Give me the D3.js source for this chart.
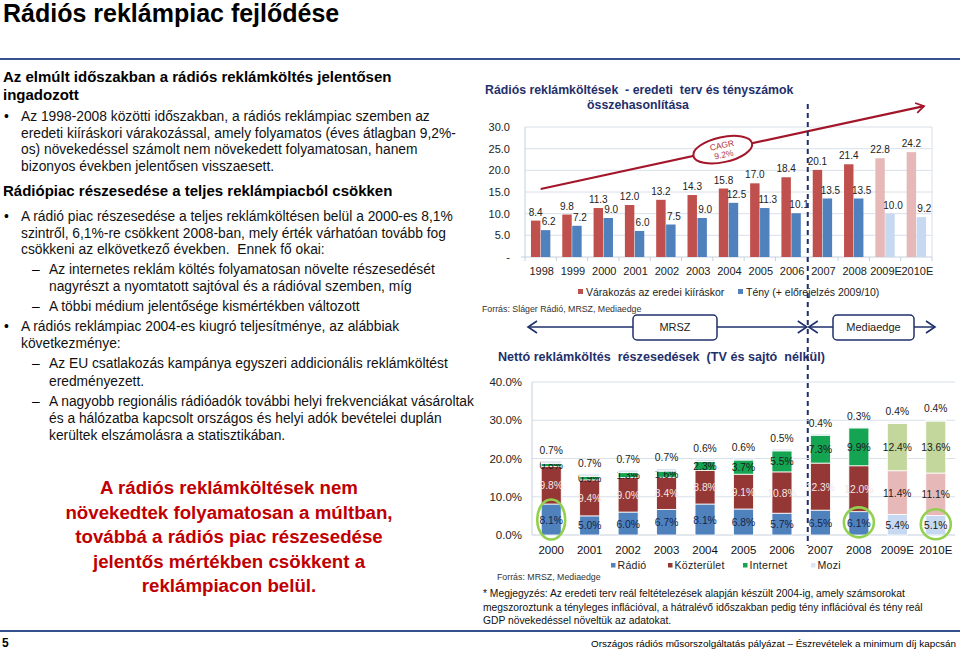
<!DOCTYPE html>
<html><head><meta charset="utf-8">
<script src="https://cdn.jsdelivr.net/npm/d3@7"></script>
<style>
body{margin:0;background:#fff}
svg{display:block;font-family:"Liberation Sans",Arial,Helvetica,sans-serif}
text{white-space:pre}
</style>
</head><body>
<svg id="c" width="960" height="653"></svg>
<script>
// ---------- DATA ----------
const years1 = ["1998","1999","2000","2001","2002","2003","2004","2005","2006","2007","2008","2009E","2010E"];
const expected = [8.4, 9.8, 11.3, 12.0, 13.2, 14.3, 15.8, 17.0, 18.4, 20.1, 21.4, 22.8, 24.2];
const actual   = [6.2, 7.2, 9.0, 6.0, 7.5, 9.0, 12.5, 11.3, 10.1, 13.5, 13.5, 10.0, 9.2];
const yTicks1 = [0, 5, 10, 15, 20, 25, 30];
const legend1 = ["Várakozás az eredei kiíráskor", "Tény (+ előrejelzés 2009/10)"];

const years2 = ["2000","2001","2002","2003","2004","2005","2006","2007","2008","2009E","2010E"];
const radio      = [8.1, 5.0, 6.0, 6.7, 8.1, 6.8, 5.7, 6.5, 6.1, 5.4, 5.1];
const kozterulet = [9.8, 9.4, 9.0, 8.4, 8.8, 9.1, 10.8, 12.3, 12.0, 11.4, 11.1];
const internet   = [0.8, 0.9, 1.3, 1.6, 2.3, 3.7, 5.5, 7.3, 9.9, 12.4, 13.6];
const mozi       = [0.7, 0.7, 0.7, 0.7, 0.6, 0.6, 0.5, 0.4, 0.3, 0.4, 0.4];
const yTicks2 = [0, 10, 20, 30, 40];
const series2 = ["Rádió", "Közterület", "Internet", "Mozi"];
const circled = ["2000", "2008", "2010E"];

const leftLines = [
  ["h","Az elmúlt időszakban a rádiós reklámköltés jelentősen"],
  ["h","ingadozott"],
  ["b","Az 1998-2008 közötti időszakban, a rádiós reklámpiac szemben az"],
  ["bc","eredeti kiíráskori várakozással, amely folyamatos (éves átlagban 9,2%-"],
  ["bc","os) növekedéssel számolt nem növekedett folyamatosan, hanem"],
  ["bc","bizonyos években jelentősen visszaesett."],
  ["h","Rádiópiac részesedése a teljes reklámpiacból csökken"],
  ["b","A rádió piac részesedése a teljes reklámköltésen belül a 2000-es 8,1%"],
  ["bc","szintről, 6,1%-re csökkent 2008-ban, mely érték várhatóan tovább fog"],
  ["bc","csökkeni az elkövetkező években.  Ennek fő okai:"],
  ["d","Az internetes reklám költés folyamatosan növelte részesedését"],
  ["dc","nagyrészt a nyomtatott sajtóval és a rádióval szemben, míg"],
  ["d","A többi médium jelentősége kismértékben változott"],
  ["b","A rádiós reklámpiac 2004-es kiugró teljesítménye, az alábbiak"],
  ["bc","következménye:"],
  ["d","Az EU csatlakozás kampánya egyszeri addicionális reklámköltést"],
  ["dc","eredményezett."],
  ["d","A nagyobb regionális rádióadók további helyi frekvenciákat vásároltak"],
  ["dc","és a hálózatba kapcsolt országos és helyi adók bevételei duplán"],
  ["dc","kerültek elszámolásra a statisztikában."]
];
const callout = ["A rádiós reklámköltések nem","növekedtek folyamatosan a múltban,","továbbá a rádiós piac részesedése","jelentős mértékben csökkent a","reklámpiacon belül."];
const noteLines = ["* Megjegyzés: Az eredeti terv reál feltételezések alapján készült 2004-ig, amely számsorokat",
  "megszoroztunk a tényleges inflációval, a hátralévő időszakban pedig tény inflációval és tény reál",
  "GDP növekedéssel növeltük az adatokat."];

// ---------- LAYOUT ----------
const svg = d3.select("#c");
const navy = "#1f2f6b", lineBlue = "#34508f";

svg.append("text").attr("x",3).attr("y",22).attr("font-size",25).attr("font-weight","bold").text("Rádiós reklámpiac fejlődése");
svg.append("line").attr("x1",0).attr("x2",960).attr("y1",59).attr("y2",59).attr("stroke",lineBlue).attr("stroke-width",2);
svg.append("line").attr("x1",0).attr("x2",960).attr("y1",631).attr("y2",631).attr("stroke",lineBlue).attr("stroke-width",2);
svg.append("text").attr("x",2).attr("y",647).attr("font-size",12).attr("font-weight","bold").text("5");
svg.append("text").attr("x",956).attr("y",647).attr("font-size",9.9).attr("text-anchor","end").text("Országos rádiós műsorszolgáltatás pályázat – Észrevételek a minimum díj kapcsán");

// left text
const leftY = [82,100,121,137.5,154,171,196,221,237.5,254,274,291,311,331,348,368,385.5,405.5,422.5,440];
const lg = svg.append("g");
leftLines.forEach((l,i)=>{
  const k=l[0], y=leftY[i];
  if(k==="h"){ lg.append("text").attr("x",3).attr("y",y).attr("font-size",15).attr("font-weight","bold").text(l[1]); return; }
  if(k==="b") lg.append("text").attr("x",4).attr("y",y).attr("font-size",13.8).text("•");
  if(k==="d") lg.append("text").attr("x",32).attr("y",y).attr("font-size",13.8).text("–");
  const x = (k==="b"||k==="bc") ? 21 : 49;
  lg.append("text").attr("x",x).attr("y",y).attr("font-size",13.8).attr("fill","#111").text(l[1]);
});
const calloutY=[494,519,543,568,592];
callout.forEach((t,i)=>svg.append("text").attr("x",229).attr("y",calloutY[i]).attr("text-anchor","middle")
  .attr("font-size",18.7).attr("font-weight","bold").attr("fill","#c00000").text(t));

// ---------- CHART 1 ----------
const x1 = d3.scaleBand().domain(years1).range([525,932]);
const y1 = d3.scaleLinear().domain([0,30]).range([257,127]);
const sub1 = d3.scaleBand().domain(["e","a"]).range([0,x1.bandwidth()]).paddingInner(0.05).paddingOuter(0.6);
const isE = d => d.endsWith("E");
const c1 = svg.append("g");
c1.append("text").attr("x",485).attr("y",94).attr("font-size",12.3).attr("font-weight","bold").attr("fill",navy).text("Rádiós reklámköltések  - eredeti  terv és tényszámok");
c1.append("text").attr("x",638).attr("y",109).attr("text-anchor","middle").attr("font-size",12.3).attr("font-weight","bold").attr("fill",navy).text("összehasonlítása");
// grid
c1.selectAll(".g1").data(yTicks1.filter(d=>d>0)).join("line")
  .attr("x1",x1.range()[0]).attr("x2",x1.range()[1]).attr("y1",d=>y1(d)).attr("y2",d=>y1(d))
  .attr("stroke","#d8e0ea").attr("stroke-width",1);
c1.append("line").attr("x1",x1.range()[0]).attr("x2",x1.range()[0]).attr("y1",y1(30)).attr("y2",y1(0)+4).attr("stroke","#c6d0dc");
c1.append("line").attr("x1",x1.range()[1]).attr("x2",x1.range()[1]).attr("y1",y1(30)).attr("y2",y1(0)).attr("stroke","#d8e0ea");
c1.append("line").attr("x1",x1.range()[0]-4).attr("x2",x1.range()[1]).attr("y1",y1(0)).attr("y2",y1(0)).attr("stroke","#c6d0dc");
c1.selectAll(".tk1").data(years1).join("line").attr("x1",d=>x1(d)+x1.bandwidth()).attr("x2",d=>x1(d)+x1.bandwidth())
  .attr("y1",y1(0)).attr("y2",y1(0)+4).attr("stroke","#c6d0dc");
c1.selectAll(".yl1").data(yTicks1).join("text").attr("x",510).attr("y",d=>y1(d)+4).attr("text-anchor","end")
  .attr("font-size",11).attr("fill","#222").text(d=>d===0?"-":d.toFixed(1));
c1.selectAll(".xl1").data(years1).join("text").attr("x",d=>x1(d)+x1.bandwidth()/2+1).attr("y",275).attr("text-anchor","middle")
  .attr("font-size",11).attr("fill","#222").text(d=>d);
// bars
const bars1 = [];
years1.forEach((yr,i)=>{
  bars1.push({yr, k:"e", v:expected[i]});
  bars1.push({yr, k:"a", v:actual[i]});
});
const col1 = d => d.k==="e" ? (isE(d.yr)?"#e6b9b8":"#c0504d") : (isE(d.yr)?"#c6d9f1":"#4f81bd");
c1.selectAll(".b1").data(bars1).join("rect")
  .attr("x",d=>x1(d.yr)+sub1(d.k)).attr("width",sub1.bandwidth())
  .attr("y",d=>y1(d.v)).attr("height",d=>y1(0)-y1(d.v)).attr("fill",col1);
c1.selectAll(".v1").data(bars1).join("text")
  .attr("x",d=>x1(d.yr)+sub1(d.k)+sub1.bandwidth()/2+(d.k==="a"?3:0)).attr("y",d=>y1(d.v)-5)
  .attr("text-anchor","middle").attr("font-size",10).attr("fill","#222").text(d=>d.v.toFixed(1));
// CAGR arrow
const ax0 = x1(years1[0])+x1.bandwidth()/2, ay0 = y1(15.7);
const ax1 = x1.range()[1]-8, ay1 = y1(34.8);
const defs = svg.append("defs");
defs.append("marker").attr("id","redArrow").attr("viewBox","-10 -6 12 12").attr("refX",0).attr("refY",0)
  .attr("markerWidth",12).attr("markerHeight",12).attr("markerUnits","userSpaceOnUse").attr("orient","auto")
  .append("path").attr("d","M-8,-5 L0,0 L-8,5").attr("fill","none").attr("stroke","#a3162a").attr("stroke-width",1.8);
c1.append("line").attr("x1",ax0).attr("y1",ay0).attr("x2",ax1).attr("y2",ay1).attr("stroke","#a3162a").attr("stroke-width",2.2).attr("marker-end","url(#redArrow)");
const t = 0.475, ex = ax0+(ax1-ax0)*t, ey = ay0+(ay1-ay0)*t;
const ang = Math.atan2(ay1-ay0, ax1-ax0)*180/Math.PI;
const eg = c1.append("g").attr("transform",`translate(${ex},${ey}) rotate(${ang})`);
eg.append("ellipse").attr("rx",30).attr("ry",12.5).attr("fill","#fff").attr("stroke","#a3162a").attr("stroke-width",2);
eg.append("text").attr("y",-1.5).attr("text-anchor","middle").attr("font-size",8.5).attr("fill","#b0303f").text("CAGR");
eg.append("text").attr("y",8).attr("text-anchor","middle").attr("font-size",8.5).attr("fill","#b0303f").text("9.2%");
// legend 1
const leg1x = [578, 738];
legend1.forEach((t,i)=>{
  c1.append("rect").attr("x",leg1x[i]).attr("y",289).attr("width",5).attr("height",5).attr("fill",i===0?"#c0504d":"#4f81bd");
  c1.append("text").attr("x",leg1x[i]+8).attr("y",296).attr("font-size",10.5).attr("fill","#222").text(t);
});
c1.append("text").attr("x",482).attr("y",312).attr("font-size",8.8).attr("fill","#333").text("Forrás: Sláger Rádió, MRSZ, Mediaedge");

// divider dashed line
const divX = x1("2007")+1;
svg.append("line").attr("x1",divX).attr("x2",divX).attr("y1",104).attr("y2",546).attr("stroke",navy).attr("stroke-width",2).attr("stroke-dasharray","5,4");

// MRSZ / Mediaedge arrows
defs.append("marker").attr("id","navArrow").attr("viewBox","-10 -7 12 14").attr("refX",0).attr("refY",0)
  .attr("markerWidth",12).attr("markerHeight",14).attr("markerUnits","userSpaceOnUse").attr("orient","auto-start-reverse")
  .append("path").attr("d","M-9,-6 L0,0 L-9,6").attr("fill","none").attr("stroke",navy).attr("stroke-width",1.6);
const arrY = 327;
[[x1.range()[0]+3, divX-1],[divX+1, 935]].forEach(s=>{
  svg.append("line").attr("x1",s[0]).attr("x2",s[1]).attr("y1",arrY).attr("y2",arrY).attr("stroke",navy).attr("stroke-width",1.5)
    .attr("marker-start","url(#navArrow)").attr("marker-end","url(#navArrow)");
});
[[633,717,"MRSZ"],[833,914,"Mediaedge"]].forEach(b=>{
  svg.append("rect").attr("x",b[0]).attr("y",315).attr("width",b[1]-b[0]).attr("height",25).attr("rx",4)
    .attr("fill","#fff").attr("stroke",navy).attr("stroke-width",1.5);
  svg.append("text").attr("x",(b[0]+b[1])/2).attr("y",331).attr("text-anchor","middle").attr("font-size",11).attr("fill","#222").text(b[2]);
});

// ---------- CHART 2 ----------
const x2 = d3.scaleBand().domain(years2).range([532,955]).paddingInner(0.48).paddingOuter(0.24);
const y2 = d3.scaleLinear().domain([0,40]).range([535,382]);
const c2 = svg.append("g");
c2.append("text").attr("x",498).attr("y",361).attr("font-size",12.6).attr("font-weight","bold").attr("fill",navy).text("Nettó reklámköltés  részesedések  (TV és sajtó  nélkül)");
c2.selectAll(".g2").data(yTicks2.filter(d=>d>0)).join("line")
  .attr("x1",x2.range()[0]).attr("x2",x2.range()[1]).attr("y1",d=>y2(d)).attr("y2",d=>y2(d)).attr("stroke","#d8e0ea");
c2.append("line").attr("x1",x2.range()[0]).attr("x2",x2.range()[0]).attr("y1",y2(40)).attr("y2",y2(0)).attr("stroke","#c6d0dc");
c2.append("line").attr("x1",x2.range()[0]).attr("x2",x2.range()[1]).attr("y1",y2(0)).attr("y2",y2(0)).attr("stroke","#c6d0dc");
c2.selectAll(".yl2").data(yTicks2).join("text").attr("x",522).attr("y",d=>y2(d)+4).attr("text-anchor","end")
  .attr("font-size",11.5).attr("fill","#222").text(d=>d.toFixed(1)+"%");
c2.selectAll(".xl2").data(years2).join("text").attr("x",d=>x2(d)+x2.bandwidth()/2).attr("y",554).attr("text-anchor","middle")
  .attr("font-size",11.5).attr("fill","#111").text(d=>d);
const rows = years2.map((yr,i)=>({yr, "Rádió":radio[i], "Közterület":kozterulet[i], "Internet":internet[i], "Mozi":mozi[i]}));
const stack = d3.stack().keys(series2)(rows);
const colN = {"Rádió":"#4f81bd","Közterület":"#953735","Internet":"#14a452","Mozi":"#dce6f2"};
const colP = {"Rádió":"#c6d9f1","Közterület":"#e6b9b8","Internet":"#c3d69b","Mozi":"#eef3f9"};
stack.forEach(s=>{
  const key=s.key;
  const segs = s.map(d=>({key, yr:d.data.yr, y0:d[0], y1:d[1], v:d.data[key]}));
  c2.selectAll(".s"+key).data(segs).join("rect")
    .attr("x",d=>x2(d.yr)).attr("width",x2.bandwidth())
    .attr("y",d=>y2(d.y1)).attr("height",d=>y2(d.y0)-y2(d.y1))
    .attr("fill",d=>isE(d.yr)?colP[key]:colN[key]).attr("stroke","#fff").attr("stroke-width",0.8);
  c2.selectAll(".l"+key).data(segs).join("text")
    .attr("x",d=>x2(d.yr)+x2.bandwidth()/2)
    .attr("y",d=> key==="Mozi" ? y2(d.y1)-7 : y2((d.y0+d.y1)/2)+4)
    .attr("text-anchor","middle").attr("font-size",10.3)
    .attr("fill",d=> (key==="Közterület" && !isE(d.yr)) ? "#f4e6e6" : (key==="Rádió" && !isE(d.yr) ? "#14244a" : "#1a1a1a"))
    .text(d=>d.v.toFixed(1)+"%");
});
// green highlight ellipses
c2.selectAll(".hl").data(circled).join("ellipse")
  .attr("cx",d=>x2(d)+x2.bandwidth()/2).attr("cy",d=>y2(radio[years2.indexOf(d)]/2)+(d==="2000"?0:-1))
  .attr("rx",d=>d==="2000"?14:15).attr("ry",d=>d==="2000"?20:15)
  .attr("fill","none").attr("stroke","#92d050").attr("stroke-width",2.6);
// legend 2
const leg2x = [611, 668, 743, 811];
series2.forEach((k,i)=>{
  c2.append("rect").attr("x",leg2x[i]).attr("y",563).attr("width",4.5).attr("height",4.5).attr("fill",colN[k]);
  c2.append("text").attr("x",leg2x[i]+6.5).attr("y",569).attr("font-size",10.6).attr("letter-spacing",0.25).attr("fill","#222").text(k);
});
c2.append("text").attr("x",497).attr("y",580).attr("font-size",8.8).attr("fill","#333").text("Forrás: MRSZ, Mediaedge");
const noteY=[597,610.5,624];
noteLines.forEach((t,i)=>svg.append("text").attr("x",483).attr("y",noteY[i]).attr("font-size",10.3).attr("fill","#111").text(t));
</script>
</body></html>
